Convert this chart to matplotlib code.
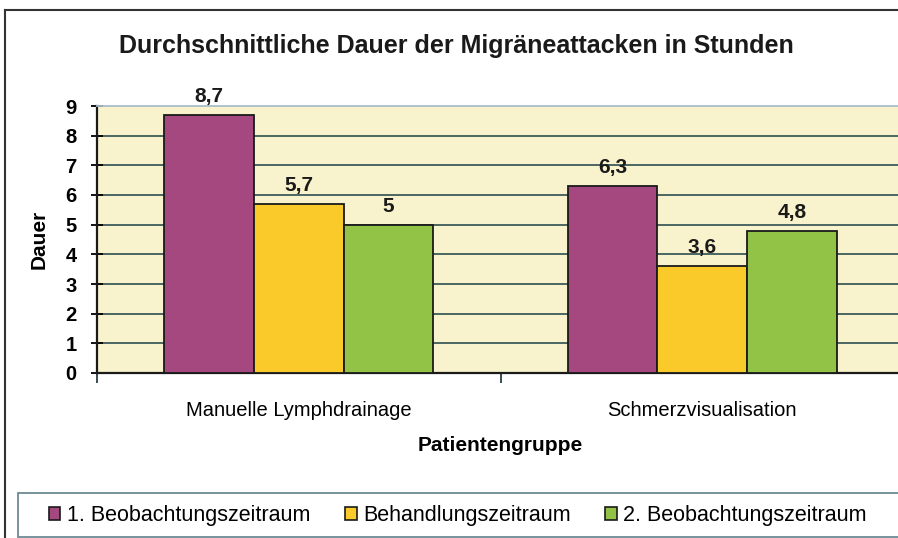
import matplotlib.pyplot as plt
import numpy as np
from matplotlib.lines import Line2D
from matplotlib.patches import Rectangle

plt.rcParams['font.family'] = ['Liberation Sans', 'DejaVu Sans']

groups = ['Manuelle Lymphdrainage', 'Schmerzvisualisation']
series = ['1. Beobachtungszeitraum', 'Behandlungszeitraum', '2. Beobachtungszeitraum']
values = [
    [8.7, 6.3],   # 1. Beobachtungszeitraum
    [5.7, 3.6],   # Behandlungszeitraum
    [5.0, 4.8],   # 2. Beobachtungszeitraum
]
colors = ['#a4487f', '#f9ca2a', '#92c246']
yticks = [0, 1, 2, 3, 4, 5, 6, 7, 8, 9]

W, H = 898, 538
fig = plt.figure(figsize=(W / 100, H / 100), dpi=100)
ax = fig.add_axes([97 / W, 1 - 373 / H, 807 / W, 267 / H])
ax.set_facecolor('#f8f2cd')

x = np.arange(len(groups))
w = 0.222
for i, (vals, c) in enumerate(zip(values, colors)):
    pos = x + (i - 1) * w
    ax.bar(pos, vals, w, color=c, edgecolor='#1a1a1a', linewidth=1.3, zorder=3)
    for p, v in zip(pos, vals):
        lbl = f'{v:g}'.replace('.', ',')
        ax.text(p, v + 0.3, lbl, ha='center', va='bottom', fontsize=15,
                fontweight='bold', color='#1a1a1a')

ax.set_xlim(-0.5, len(groups) - 0.5)
ax.set_ylim(yticks[0], yticks[-1])
ax.set_yticks(yticks)
ax.set_yticklabels([str(t) for t in yticks], fontsize=14.5, fontweight='bold')
for t in yticks[1:-1]:
    ax.axhline(t, color='#3d5c5a', linewidth=1.3, zorder=1)

ax.set_xticks(x)
ax.set_xticklabels(groups, fontsize=14.5)
ax.set_xticks(np.arange(len(groups) + 1) - 0.5, minor=True)
ax.tick_params(axis='x', which='major', length=0, pad=20)
ax.tick_params(axis='x', which='minor', length=7, width=1.3, color='#2a3f45')
ax.tick_params(axis='y', direction='inout', length=9, width=1.3, pad=10)

ax.spines['right'].set_visible(False)
ax.spines['top'].set_color('#a9bccd')
ax.spines['top'].set_linewidth(1.3)
for s in ['left', 'bottom']:
    ax.spines[s].set_linewidth(1.6)
    ax.spines[s].set_color('#1a1a1a')

ax.set_xlabel('Patientengruppe', fontsize=15, fontweight='bold', labelpad=12)
ax.set_ylabel('Dauer', fontsize=15, fontweight='bold', labelpad=12)
fig.text(456 / W, 1 - 46 / H, 'Durchschnittliche Dauer der Migräneattacken in Stunden',
         ha='center', va='center', fontsize=18, fontweight='bold', color='#1a1a1a')

# outer frame
fig.add_artist(Line2D([5 / W, 5 / W], [0, 1 - 10 / H], color='#333333', lw=1.5))
fig.add_artist(Line2D([5 / W, 1], [1 - 10 / H, 1 - 10 / H], color='#333333', lw=1.5))

# legend box
fig.add_artist(Rectangle((18 / W, 1 - 537 / H), 900 / W, 44 / H, transform=fig.transFigure,
                         facecolor='white', edgecolor='#6c8a94', lw=1.3))
handles = [Rectangle((0, 0), 1, 1, facecolor=c, edgecolor='#1a1a1a', lw=1.2) for c in colors]
leg = fig.legend(handles, series, loc='center left', ncol=3,
                 bbox_to_anchor=(40 / W, 1 - 516 / H),
                 fontsize=15.5, frameon=False, handlelength=0.55,
                 handleheight=0.55, handletextpad=0.3, columnspacing=1.6,
                 borderaxespad=0)

fig.savefig('out.png', dpi=100)
